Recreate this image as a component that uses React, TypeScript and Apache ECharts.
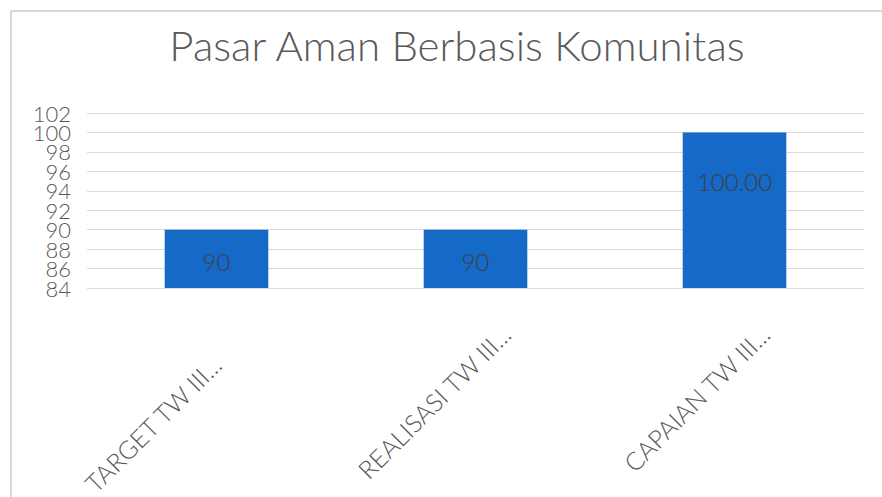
import React, { useEffect, useRef } from "react";
import * as echarts from "echarts";

const titleText = "Pasar Aman Berbasis Komunitas";
const categories = ["TARGET TW III...", "REALISASI TW III...", "CAPAIAN TW III..."];
const values = [90, 90, 100];
const valueLabels = ["90", "90", "100.00"];
const yMin = 84;
const yMax = 102;
const yStep = 2;

export default function App() {
  const ref = useRef<HTMLDivElement>(null);
  useEffect(() => {
    if (!ref.current) return;
    const chart = echarts.init(ref.current, null, { renderer: "svg" });
    const font = "Lato, 'DejaVu Sans', sans-serif";
    const labelShift = [0, -43, -43];
    const labelOffsets = [3, 3, -29];
    const yLabelStyle = {
      margin: 16,
      showMinLabel: true,
      showMaxLabel: true,
      hideOverlap: false,
      fontFamily: font,
      fontWeight: 300,
      fontSize: 22,
      color: "#595959",
    };
    const yBase = {
      type: "value",
      position: "left",
      min: yMin,
      max: yMax,
      interval: yStep,
      axisLine: { show: false },
      axisTick: { show: false },
    };
    chart.setOption({
      animation: false,
      backgroundColor: "#ffffff",
      title: {
        text: titleText,
        top: 19,
        left: 452,
        textAlign: "center",
        textStyle: { fontFamily: font, fontWeight: 300, fontSize: 42, color: "#595959" },
      },
      graphic: [
        {
          type: "rect",
          shape: { x: 11, y: 11, width: 900, height: 520 },
          style: { fill: "none", stroke: "#d9d9d9", lineWidth: 2 },
          silent: true,
        },
      ],
      grid: {
        left: 87,
        right: 18,
        top: 113,
        bottom: 209,
        containLabel: false,
        outerBoundsMode: "none",
      },
      xAxis: {
        type: "category",
        data: categories.map((c, i) => ({
          value: c,
          textStyle: { padding: [0, labelShift[i], 0, 0] },
        })),
        axisLine: { show: false },
        axisTick: { show: false },
        axisLabel: {
          rotate: 45,
          margin: 72,
          interval: 0,
          fontFamily: font,
          fontWeight: 300,
          fontSize: 25,
          color: "#595959",
        },
      },
      yAxis: [
        {
          ...yBase,
          splitLine: { lineStyle: { color: "#d9d9d9", width: 1 } },
          axisLabel: {
            ...yLabelStyle,
            formatter: (v: number) => (Math.round(v - yMin) % (2 * yStep) === 0 ? String(v) : ""),
          },
        },
        {
          ...yBase,
          offset: 0,
          splitLine: { show: false },
          axisLabel: {
            ...yLabelStyle,
            formatter: (v: number) => (Math.round(v - yMin) % (2 * yStep) !== 0 ? String(v) : ""),
          },
        },
      ],
      series: [
        {
          type: "bar",
          yAxisIndex: 0,
          barWidth: "40%",
          itemStyle: { color: "#1569c7" },
          data: values.map((v, i) => ({
            value: v,
            label: {
              show: true,
              position: "inside",
              offset: [0, labelOffsets[i]],
              formatter: valueLabels[i],
              fontFamily: font,
              fontWeight: 300,
              fontSize: 24,
              color: "#404040",
            },
          })),
        },
      ],
    });
    return () => chart.dispose();
  }, []);
  return (
    <div
      ref={ref}
      style={{ position: "absolute", left: 0, top: 0, width: 882, height: 497 }}
    />
  );
}
